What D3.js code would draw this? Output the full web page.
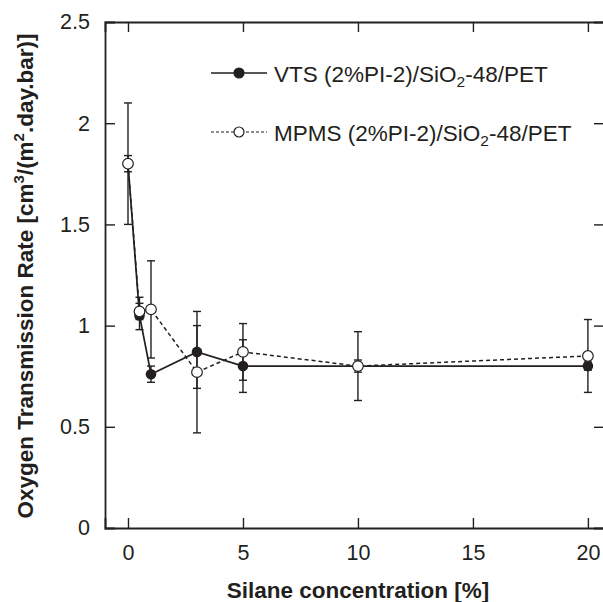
<!DOCTYPE html>
<html>
<head>
<meta charset="utf-8">
<script src="https://cdn.jsdelivr.net/npm/d3@7"></script>
<style>
  body { margin: 0; background: #fff; }
  svg { display: block; font-family: "Liberation Sans", Arial, sans-serif; }
</style>
</head>
<body>
<svg id="chart" width="603" height="602"></svg>
<script>
// silane concentration [%]
const concentrations = [0, 0.5, 1, 3, 5, 10, 20];

// VTS (2%PI-2)/SiO2-48/PET
const vtsValues = [1.80, 1.05, 0.76, 0.87, 0.80, 0.80, 0.80];
const vtsHigh   = [1.84, 1.11, 0.80, 1.00, 0.93, 0.83, 0.82];
const vtsLow    = [1.76, 0.98, 0.72, 0.69, 0.67, 0.77, 0.78];

// MPMS (2%PI-2)/SiO2-48/PET
const mpmsValues = [1.80, 1.07, 1.08, 0.77, 0.87, 0.80, 0.85];
const mpmsHigh   = [2.10, 1.14, 1.32, 1.07, 1.01, 0.97, 1.03];
const mpmsLow    = [1.50, 1.03, 0.84, 0.47, 0.73, 0.63, 0.67];

const xTicks = [0, 5, 10, 15, 20];
const yTicks = [0, 0.5, 1, 1.5, 2, 2.5];

const ink = "#231f20";
const svg = d3.select("#chart");

const plotLeft = 105, plotRight = 604, plotTop = 22, plotBottom = 528;

let x = d3.scaleLinear().domain([-1, 20.7]).range([plotLeft, plotRight]);
let y = d3.scaleLinear().domain([0, 2.5]).range([plotBottom, plotTop]);

function makeSeries(vals, hi, lo) {
  return concentrations.map((c, i) => ({ x: c, y: vals[i], hi: hi[i], lo: lo[i] }));
}
const vts = makeSeries(vtsValues, vtsHigh, vtsLow);
const mpms = makeSeries(mpmsValues, mpmsHigh, mpmsLow);

// axes (ticks point inward, mirrored on top / right)
let gx = svg.append("g").attr("transform", `translate(0,${plotBottom})`)
  .call(d3.axisBottom(x).tickValues(xTicks).tickSize(-10).tickPadding(17).tickFormat(d3.format("d")));
let gxTop = svg.append("g").attr("transform", `translate(0,${plotTop})`)
  .call(d3.axisTop(x).tickValues(xTicks).tickSize(-10).tickFormat(""));
let gy = svg.append("g").attr("transform", `translate(${plotLeft},0)`)
  .call(d3.axisLeft(y).tickValues(yTicks).tickSize(-10).tickPadding(15).tickFormat(d => d));
let gyRight = svg.append("g").attr("transform", `translate(${plotRight},0)`)
  .call(d3.axisRight(y).tickValues(yTicks).tickSize(-10).tickFormat(""));

[gx, gxTop, gy, gyRight].forEach(g => {
  g.select(".domain").attr("stroke", ink).attr("stroke-width", 1.8);
  g.selectAll(".tick line").attr("stroke", ink).attr("stroke-width", 1.4);
  g.selectAll(".tick text").attr("fill", ink).attr("font-size", 21.5)
    .attr("font-family", "'Liberation Sans', Arial, sans-serif");
});
gx.selectAll(".tick text").attr("dy", "0.71em");
// drop the end ticks that sit on the frame
gy.selectAll(".tick").filter(d => d === 0 || d === 2.5).select("line").remove();
gyRight.selectAll(".tick").filter(d => d === 0 || d === 2.5).select("line").remove();

// axis titles
svg.append("text")
  .attr("x", 358).attr("y", 598)
  .attr("text-anchor", "middle")
  .attr("font-size", 22.5).attr("font-weight", "bold").attr("fill", ink)
  .text("Silane concentration [%]");

let yTitle = svg.append("text")
  .attr("transform", "translate(33,276) rotate(-90)")
  .attr("text-anchor", "middle")
  .attr("font-size", 22.5).attr("font-weight", "bold").attr("fill", ink);
yTitle.append("tspan").text("Oxygen Transmission Rate [cm");
yTitle.append("tspan").attr("dy", -9).attr("font-size", 15).text("3");
yTitle.append("tspan").attr("dy", 9).text("/(m");
yTitle.append("tspan").attr("dy", -9).attr("font-size", 15).text("2");
yTitle.append("tspan").attr("dy", 9).text(".day.bar)]");

// error bars
function drawErrors(data) {
  let g = svg.append("g").attr("stroke", ink).attr("stroke-width", 1.4);
  data.forEach(d => {
    g.append("line").attr("x1", x(d.x)).attr("x2", x(d.x)).attr("y1", y(d.hi)).attr("y2", y(d.lo));
    [d.hi, d.lo].forEach(v => {
      g.append("line").attr("x1", x(d.x) - 4).attr("x2", x(d.x) + 4).attr("y1", y(v)).attr("y2", y(v));
    });
  });
}
drawErrors(vts);
drawErrors(mpms);

let lineGen = d3.line().x(d => x(d.x)).y(d => y(d.y));

// VTS: solid line, filled markers
svg.append("path").datum(vts).attr("d", lineGen)
  .attr("fill", "none").attr("stroke", ink).attr("stroke-width", 1.7);
svg.append("g").selectAll("circle").data(vts).join("circle")
  .attr("cx", d => x(d.x)).attr("cy", d => y(d.y)).attr("r", 5.3)
  .attr("fill", ink);

// MPMS: dashed line, open markers
svg.append("path").datum(mpms).attr("d", lineGen)
  .attr("fill", "none").attr("stroke", ink).attr("stroke-width", 1.5)
  .attr("stroke-dasharray", "4,3");
svg.append("g").selectAll("circle").data(mpms).join("circle")
  .attr("cx", d => x(d.x)).attr("cy", d => y(d.y)).attr("r", 5.3)
  .attr("fill", "#fff").attr("stroke", ink).attr("stroke-width", 1.2);

// legend
const legendItems = [
  { name: "VTS (2%PI-2)/SiO", filled: true, dash: null, y: 73 },
  { name: "MPMS (2%PI-2)/SiO", filled: false, dash: "3,2", y: 132 }
];
legendItems.forEach(item => {
  let g = svg.append("g");
  g.append("line").attr("x1", 211).attr("x2", 267).attr("y1", item.y).attr("y2", item.y)
    .attr("stroke", ink).attr("stroke-width", item.filled ? 1.7 : 1.2)
    .attr("stroke-dasharray", item.dash);
  g.append("circle").attr("cx", 239).attr("cy", item.y).attr("r", 5)
    .attr("fill", item.filled ? ink : "#fff").attr("stroke", ink).attr("stroke-width", 1.2);
  let t = g.append("text").attr("x", 274).attr("y", item.y + 8.5)
    .attr("font-size", 22.5).attr("fill", ink);
  t.append("tspan").text(item.name);
  t.append("tspan").attr("dy", 5).attr("font-size", 15.5).text("2");
  t.append("tspan").attr("dy", -5).text("-48/PET");
});
</script>
</body>
</html>
